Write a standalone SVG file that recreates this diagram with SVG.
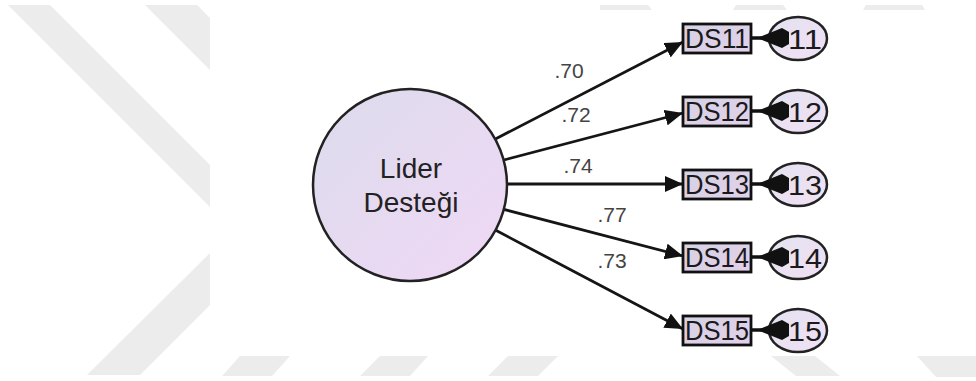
<svg xmlns="http://www.w3.org/2000/svg" width="976" height="381" viewBox="0 0 976 381">
  <defs>
    <linearGradient id="latentFill" x1="0" y1="0" x2="1" y2="1">
      <stop offset="0" stop-color="#dcdcec"/>
      <stop offset="1" stop-color="#f0d8f6"/>
    </linearGradient>
    <linearGradient id="boxFill" x1="0" y1="0" x2="1" y2="1">
      <stop offset="0" stop-color="#d6d2e4"/>
      <stop offset="1" stop-color="#e2d0ea"/>
    </linearGradient>
    <linearGradient id="errFill" x1="0" y1="0" x2="1" y2="1">
      <stop offset="0" stop-color="#e4e2f0"/>
      <stop offset="1" stop-color="#f0e0f4"/>
    </linearGradient>
    <marker id="arrow" markerUnits="userSpaceOnUse" markerWidth="19" markerHeight="16" refX="18" refY="8" orient="auto">
      <path d="M0,0 L18,8 L0,16 z" fill="#111"/>
    </marker>
  </defs>
  <style>
    .wm { fill: #ececec; }
    .latent { fill: url(#latentFill); stroke: #222; stroke-width: 2.5; }
    .obs { fill: url(#boxFill); stroke: #111; stroke-width: 2.8; }
    .err { fill: url(#errFill); stroke: #222; stroke-width: 2.5; }
    .path { stroke: #151515; stroke-width: 2.8; fill: none; marker-end: url(#arrow); }
    .epath { stroke: #111; stroke-width: 3.5; fill: none; }
    .ehead { fill: #111; }
    .big { font-family: "Liberation Sans", Arial, sans-serif; font-size: 28px; fill: #222; text-anchor: middle; }
    .lbl { font-family: "Liberation Sans", Arial, sans-serif; font-size: 21px; fill: #444; text-anchor: middle; }
    .obsText { font-family: "Liberation Sans", Arial, sans-serif; font-size: 28px; fill: #1a1a1a; }
    .errText { font-family: "Liberation Sans", Arial, sans-serif; font-size: 28px; fill: #1a1a1a; }
  </style>

  <!-- page background with faint watermark -->
  <rect x="0" y="0" width="976" height="381" fill="#ffffff"/>
  <g id="watermark">
    <polygon class="wm" points="8,5 50,5 210,165 210,207"/>
    <polygon class="wm" points="145,5 197,5 210,18 210,70"/>
    <polygon class="wm" points="210,253 210,305 140,375 87,375"/>
    <polygon class="wm" points="600,5 648,5 652,10 600,10"/>
    <polygon class="wm" points="736,5 783,5 787,10 733,10"/>
    <polygon class="wm" points="866,5 922,5 925,10 863,10"/>
    <polygon class="wm" points="240,356 290,356 272,376 222,376"/>
    <polygon class="wm" points="380,356 428,356 410,376 360,376"/>
    <polygon class="wm" points="508,356 558,356 538,376 488,376"/>
    <polygon class="wm" points="771,356 815,356 840,376 796,376"/>
    <polygon class="wm" points="917,356 976,356 976,377 936,377"/>
  </g>
  <!-- white drawing area -->
  <rect x="210" y="10" width="766" height="346" fill="#ffffff"/>

  <!-- connectors -->
  <g id="connectors">
    <line class="path" x1="495.4" y1="139" x2="683" y2="42"/>
    <line class="path" x1="503.8" y1="160" x2="683" y2="113"/>
    <line class="path" x1="507" y1="184" x2="683" y2="184"/>
    <line class="path" x1="503.9" y1="209.4" x2="683" y2="256"/>
    <line class="path" x1="495.8" y1="230.3" x2="683" y2="329"/>

    <line class="epath" x1="751" y1="38" x2="786" y2="38"/>
    <line class="epath" x1="751" y1="111" x2="786" y2="111"/>
    <line class="epath" x1="751" y1="184" x2="786" y2="184"/>
    <line class="epath" x1="751" y1="257" x2="786" y2="257"/>
    <line class="epath" x1="751" y1="330" x2="786" y2="330"/>
  </g>

  <!-- loading labels -->
  <g id="loadings">
    <text class="lbl" x="569" y="78">.70</text>
    <text class="lbl" x="576" y="122">.72</text>
    <text class="lbl" x="578" y="173">.74</text>
    <text class="lbl" x="612" y="222">.77</text>
    <text class="lbl" x="612" y="268">.73</text>
  </g>

  <!-- latent factor -->
  <g id="lider-destegi">
    <ellipse class="latent" cx="410" cy="185" rx="97" ry="96"/>
    <text class="big" x="411" y="178">Lider</text>
    <text class="big" x="411" y="212">Desteği</text>
  </g>

  <!-- indicators -->
  <g id="DS11">
    <rect class="obs" x="683" y="24" width="68" height="29"/>
    <text class="obsText" x="685" y="48" textLength="64" lengthAdjust="spacingAndGlyphs">DS11</text>
  </g>
  <g id="DS12">
    <rect class="obs" x="683" y="97" width="68" height="29"/>
    <text class="obsText" x="685" y="121" textLength="64" lengthAdjust="spacingAndGlyphs">DS12</text>
  </g>
  <g id="DS13">
    <rect class="obs" x="683" y="170" width="68" height="29"/>
    <text class="obsText" x="685" y="194" textLength="64" lengthAdjust="spacingAndGlyphs">DS13</text>
  </g>
  <g id="DS14">
    <rect class="obs" x="683" y="243" width="68" height="29"/>
    <text class="obsText" x="685" y="267" textLength="64" lengthAdjust="spacingAndGlyphs">DS14</text>
  </g>
  <g id="DS15">
    <rect class="obs" x="683" y="316" width="68" height="29"/>
    <text class="obsText" x="685" y="340" textLength="64" lengthAdjust="spacingAndGlyphs">DS15</text>
  </g>

  <!-- error terms; the arrowhead sits over the left of each label -->
  <g id="e11">
    <ellipse class="err" cx="798" cy="38.5" rx="29" ry="21.5"/>
    <text class="errText" x="788" y="49" textLength="34" lengthAdjust="spacingAndGlyphs">11</text>
    <polygon class="ehead" points="757,38 782,28 789,32 789,44 782,48"/>
  </g>
  <g id="e12">
    <ellipse class="err" cx="798" cy="111.5" rx="29" ry="21.5"/>
    <text class="errText" x="788" y="122" textLength="34" lengthAdjust="spacingAndGlyphs">12</text>
    <polygon class="ehead" points="757,111 782,101 789,105 789,117 782,121"/>
  </g>
  <g id="e13">
    <ellipse class="err" cx="798" cy="184.5" rx="29" ry="21.5"/>
    <text class="errText" x="788" y="195" textLength="34" lengthAdjust="spacingAndGlyphs">13</text>
    <polygon class="ehead" points="757,184 782,174 789,178 789,190 782,194"/>
  </g>
  <g id="e14">
    <ellipse class="err" cx="798" cy="257.5" rx="29" ry="21.5"/>
    <text class="errText" x="788" y="268" textLength="34" lengthAdjust="spacingAndGlyphs">14</text>
    <polygon class="ehead" points="757,257 782,247 789,251 789,263 782,267"/>
  </g>
  <g id="e15">
    <ellipse class="err" cx="798" cy="330.5" rx="29" ry="21.5"/>
    <text class="errText" x="788" y="341" textLength="34" lengthAdjust="spacingAndGlyphs">15</text>
    <polygon class="ehead" points="757,330 782,320 789,324 789,336 782,340"/>
  </g>
</svg>
